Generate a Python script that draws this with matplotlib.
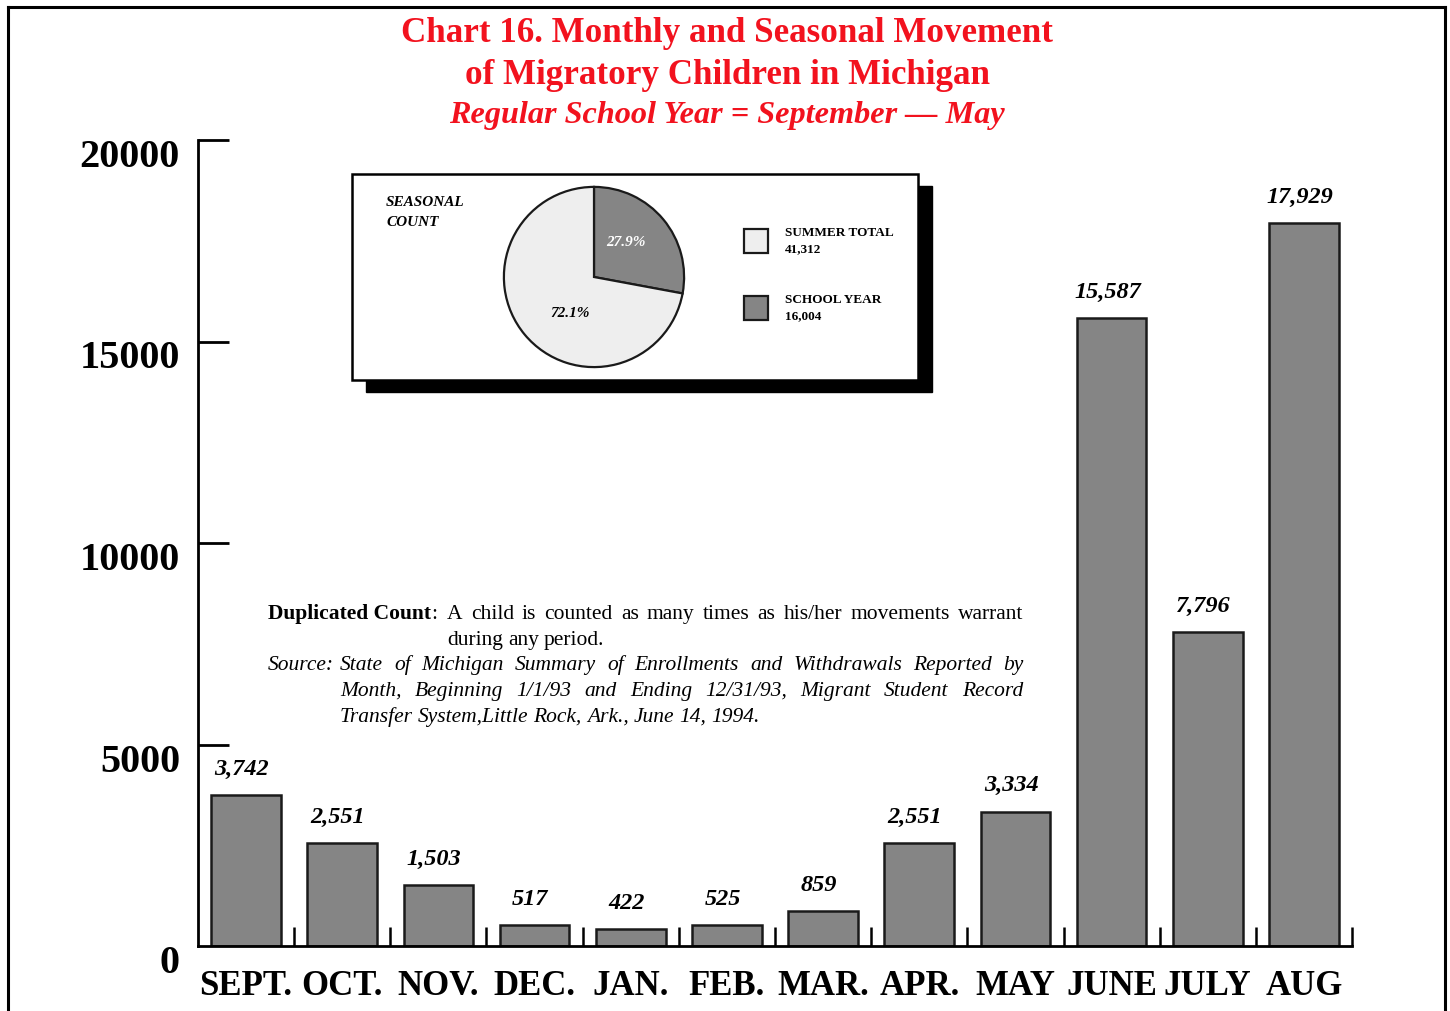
import numpy as np
import matplotlib
matplotlib.use("Agg")
import matplotlib.pyplot as plt
from matplotlib.patches import Rectangle
from matplotlib.lines import Line2D
from matplotlib.transforms import ScaledTranslation

plt.rcParams['font.family'] = ['Liberation Serif', 'DejaVu Serif']

# data
months = ['SEPT.', 'OCT.', 'NOV.', 'DEC.', 'JAN.', 'FEB.', 'MAR.', 'APR.',
          'MAY', 'JUNE', 'JULY', 'AUG']
counts = [3742, 2551, 1503, 517, 422, 525, 859, 2551, 3334, 15587, 7796, 17929]
yticks = [0, 5000, 10000, 15000, 20000]

season_labels = ['SCHOOL YEAR', 'SUMMER TOTAL']
season_totals = [16004, 41312]
season_pct = ['27.9%', '72.1%']

RED = '#f2121e'
BAR = '#858585'
LIGHT = '#eeeeee'

W, H = 1450, 1011
fig = plt.figure(figsize=(W / 100, H / 100), dpi=100)


def fx(x):
    return x / W


def fy(y):
    return 1 - y / H


# outer frame
for xs, ys in [((8, 8), (7, 1011)), ((8, 1445), (7, 7)), ((1445, 1445), (7, 1011))]:
    fig.add_artist(Line2D([fx(v) for v in xs], [fy(v) for v in ys],
                          color='black', lw=2.2))

# titles
fig.text(fx(727), fy(33), 'Chart 16. Monthly and Seasonal Movement', color=RED,
         fontsize=25.2, fontweight='bold', ha='center', va='center')
fig.text(fx(727), fy(75), 'of Migratory Children in Michigan', color=RED,
         fontsize=25.2, fontweight='bold', ha='center', va='center')
fig.text(fx(727), fy(115), 'Regular School Year = September \u2014 May', color=RED,
         fontsize=23.2, fontweight='bold', style='italic', ha='center', va='center')

# main bar chart
ax = fig.add_axes([fx(198), fy(946), fx(1352) - fx(198), fy(140) - fy(946)])
x = np.arange(len(months))
bars = ax.bar(x, counts, width=0.725, color=BAR, edgecolor='#1a1a1a', linewidth=1.8)
ax.set_xlim(-0.5, len(months) - 0.5)
ax.set_ylim(0, 20000)
for s in ['top', 'right']:
    ax.spines[s].set_visible(False)
for s in ['left', 'bottom']:
    ax.spines[s].set_linewidth(2)

ax.set_yticks(yticks)
ax.set_yticklabels([str(v) for v in yticks])
ax.tick_params(axis='y', direction='in', length=22, width=2, pad=13,
               labelsize=29)
for lab in ax.get_yticklabels():
    lab.set_fontweight('bold')
    lab.set_transform(lab.get_transform() + ScaledTranslation(0, -0.13, fig.dpi_scale_trans))
ax.yaxis.get_major_ticks()[0].tick1line.set_visible(False)

ax.set_xticks(x)
ax.set_xticklabels(months)
ax.set_xticks(x + 0.5, minor=True)
ax.tick_params(axis='x', which='major', length=0, pad=17, labelsize=25)
ax.tick_params(axis='x', which='minor', direction='in', length=14, width=1.8)
for lab in ax.get_xticklabels():
    lab.set_fontweight('bold')

for xi, v in zip(x, counts):
    ax.annotate(f'{v:,}', (xi, v), xytext=(-3, 11), textcoords='offset points',
                ha='center', va='bottom', fontsize=17.5, fontweight='bold',
                style='italic')

# notes, justified line by line
renderer = fig.canvas.get_renderer()


def justify(words, x0, x1, y, last=False, **kw):
    arts = [fig.text(fx(x0), fy(y), w, va='baseline', ha='left', **kw) for w in words]
    widths = [a.get_window_extent(renderer).width for a in arts]
    if last or len(arts) == 1:
        gap = 5
    else:
        gap = (x1 - x0 - sum(widths)) / (len(arts) - 1)
    pos = x0
    for a, w in zip(arts, widths):
        a.set_x(fx(pos))
        pos += w + gap
    return pos - gap


NOTE_FS = 15.5
end = justify(['Duplicated Count'], 268, 268, 619, fontsize=NOTE_FS, fontweight='bold')
justify([':'], end, end, 619, fontsize=NOTE_FS)
justify('A child is counted as many times as his/her movements warrant'.split(),
        447, 1023, 619, fontsize=NOTE_FS)
justify('during any period.'.split(), 447, 1023, 645, last=True, fontsize=NOTE_FS)
justify(['Source:'], 268, 268, 670, fontsize=NOTE_FS, style='italic')
justify('State of Michigan Summary of Enrollments and Withdrawals Reported by'.split(),
        340, 1023, 670, fontsize=NOTE_FS, style='italic')
justify('Month, Beginning 1/1/93 and Ending 12/31/93, Migrant Student Record'.split(),
        340, 1023, 696, fontsize=NOTE_FS, style='italic')
justify('Transfer System,Little Rock, Ark., June 14, 1994.'.split(),
        340, 1023, 722, last=True, fontsize=NOTE_FS, style='italic')

# inset box with shadow
fig.add_artist(Rectangle((fx(366), fy(392)), fx(932) - fx(366), fy(186) - fy(392),
                         transform=fig.transFigure, facecolor='black', edgecolor='black'))
fig.add_artist(Rectangle((fx(352), fy(380)), fx(918) - fx(352), fy(174) - fy(380),
                         transform=fig.transFigure, facecolor='white', edgecolor='black',
                         lw=1.8))
fig.text(fx(386), fy(202), 'SEASONAL', fontsize=11, fontweight='bold', style='italic',
         va='center', ha='left')
fig.text(fx(386), fy(222), 'COUNT', fontsize=11, fontweight='bold', style='italic',
         va='center', ha='left')

pax = fig.add_axes([fx(503), fy(368), fx(685) - fx(503), fy(186) - fy(368)])
pax.set_zorder(5)
pax.patch.set_alpha(0)
wedges, _ = pax.pie(season_totals, colors=[BAR, LIGHT], startangle=90,
                    counterclock=False,
                    wedgeprops=dict(edgecolor='#1a1a1a', linewidth=1.6))
pax.set_xlim(-1.01, 1.01)
pax.set_ylim(-1.01, 1.01)
pax.set_aspect('equal')
pax.text(0.36, 0.38, season_pct[0], ha='center', va='center', fontsize=11,
         fontweight='bold', style='italic', color='white')
pax.text(-0.26, -0.40, season_pct[1], ha='center', va='center', fontsize=11,
         fontweight='bold', style='italic', color='black')

# legend squares
for (y0, col, lab, tot) in [(229, LIGHT, season_labels[1], season_totals[1]),
                            (296, BAR, season_labels[0], season_totals[0])]:
    fig.add_artist(Rectangle((fx(744), fy(y0 + 24)), fx(768) - fx(744), fy(y0) - fy(y0 + 24),
                             transform=fig.transFigure, facecolor=col,
                             edgecolor='#1a1a1a', lw=1.6))
    fig.text(fx(785), fy(y0 + 4), lab, fontsize=9.5, fontweight='bold', va='center', ha='left')
    fig.text(fx(785), fy(y0 + 20), f'{tot:,}', fontsize=9.5, fontweight='bold',
             va='center', ha='left')

fig.savefig('out.png', dpi=100)
